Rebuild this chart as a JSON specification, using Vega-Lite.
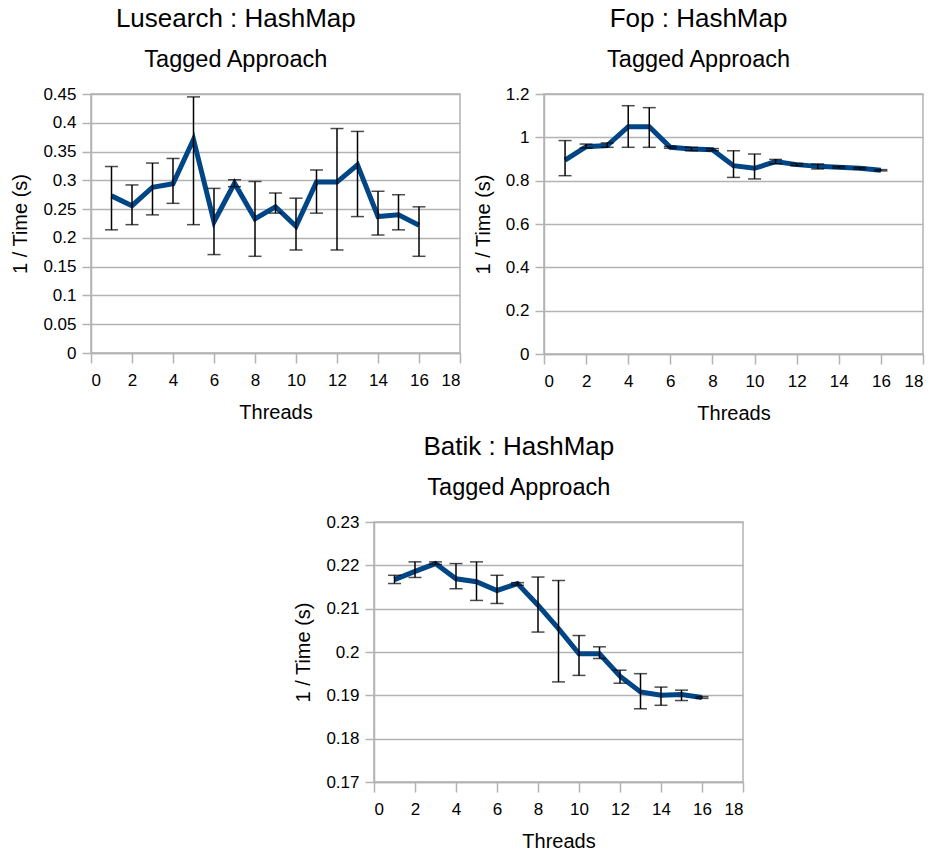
{
  "$schema": "https://vega.github.io/schema/vega-lite/v6.json",
  "padding": {"left": 10, "top": 4, "right": 0, "bottom": 0},
  "background": "white",
  "datasets": {
    "lusearch": [
      {"threads": 1, "value": 0.273, "lo": 0.214, "hi": 0.324},
      {"threads": 2, "value": 0.256, "lo": 0.223, "hi": 0.292},
      {"threads": 3, "value": 0.288, "lo": 0.240, "hi": 0.330},
      {"threads": 4, "value": 0.294, "lo": 0.260, "hi": 0.338},
      {"threads": 5, "value": 0.371, "lo": 0.223, "hi": 0.445},
      {"threads": 6, "value": 0.228, "lo": 0.171, "hi": 0.286},
      {"threads": 7, "value": 0.295, "lo": 0.289, "hi": 0.301},
      {"threads": 8, "value": 0.233, "lo": 0.168, "hi": 0.298},
      {"threads": 9, "value": 0.254, "lo": 0.243, "hi": 0.278},
      {"threads": 10, "value": 0.220, "lo": 0.179, "hi": 0.269},
      {"threads": 11, "value": 0.297, "lo": 0.243, "hi": 0.318},
      {"threads": 12, "value": 0.297, "lo": 0.179, "hi": 0.390},
      {"threads": 13, "value": 0.327, "lo": 0.237, "hi": 0.385},
      {"threads": 14, "value": 0.237, "lo": 0.205, "hi": 0.281},
      {"threads": 15, "value": 0.240, "lo": 0.214, "hi": 0.275},
      {"threads": 16, "value": 0.222, "lo": 0.168, "hi": 0.254}
    ],
    "fop": [
      {"threads": 1, "value": 0.895, "lo": 0.823, "hi": 0.985},
      {"threads": 2, "value": 0.957, "lo": 0.951, "hi": 0.969},
      {"threads": 3, "value": 0.962, "lo": 0.954, "hi": 0.974},
      {"threads": 4, "value": 1.049, "lo": 0.954, "hi": 1.146},
      {"threads": 5, "value": 1.049, "lo": 0.954, "hi": 1.137},
      {"threads": 6, "value": 0.954, "lo": 0.950, "hi": 0.958},
      {"threads": 7, "value": 0.946, "lo": 0.938, "hi": 0.954},
      {"threads": 8, "value": 0.943, "lo": 0.938, "hi": 0.948},
      {"threads": 9, "value": 0.869, "lo": 0.815, "hi": 0.938},
      {"threads": 10, "value": 0.857, "lo": 0.808, "hi": 0.923},
      {"threads": 11, "value": 0.888, "lo": 0.878, "hi": 0.898},
      {"threads": 12, "value": 0.874, "lo": 0.869, "hi": 0.879},
      {"threads": 13, "value": 0.866, "lo": 0.854, "hi": 0.877},
      {"threads": 14, "value": 0.862, "lo": 0.858, "hi": 0.866},
      {"threads": 15, "value": 0.857, "lo": 0.853, "hi": 0.861},
      {"threads": 16, "value": 0.848, "lo": 0.845, "hi": 0.851}
    ],
    "batik": [
      {"threads": 1, "value": 0.2167, "lo": 0.2158, "hi": 0.2177},
      {"threads": 2, "value": 0.2186, "lo": 0.2172, "hi": 0.2208},
      {"threads": 3, "value": 0.2204, "lo": 0.2202, "hi": 0.2208},
      {"threads": 4, "value": 0.2169, "lo": 0.2146, "hi": 0.2204},
      {"threads": 5, "value": 0.2162, "lo": 0.2119, "hi": 0.2208},
      {"threads": 6, "value": 0.2142, "lo": 0.2112, "hi": 0.2177},
      {"threads": 7, "value": 0.2158, "lo": 0.2154, "hi": 0.2160},
      {"threads": 8, "value": 0.2108, "lo": 0.2046, "hi": 0.2173},
      {"threads": 9, "value": 0.2054, "lo": 0.1931, "hi": 0.2165},
      {"threads": 10, "value": 0.1996, "lo": 0.1946, "hi": 0.2038},
      {"threads": 11, "value": 0.1996, "lo": 0.1985, "hi": 0.2012},
      {"threads": 12, "value": 0.1944, "lo": 0.1928, "hi": 0.1958},
      {"threads": 13, "value": 0.1908, "lo": 0.1869, "hi": 0.1950},
      {"threads": 14, "value": 0.1900, "lo": 0.1877, "hi": 0.1919},
      {"threads": 15, "value": 0.1902, "lo": 0.1888, "hi": 0.1912},
      {"threads": 16, "value": 0.1895, "lo": 0.1893, "hi": 0.1897}
    ],
    "empty": []
  },
  "config": {
    "font": "Liberation Sans",
    "view": {"stroke": "#b3b3b3", "strokeWidth": 1.5},
    "axis": {
      "labelFont": "Liberation Sans",
      "titleFont": "Liberation Sans",
      "labelFontSize": 17,
      "titleFontSize": 20,
      "labelColor": "#000",
      "titleColor": "#000",
      "titleFontWeight": "normal",
      "domainColor": "#b3b3b3",
      "domainWidth": 1.5,
      "tickColor": "#b3b3b3",
      "tickWidth": 1.5,
      "gridColor": "#b3b3b3",
      "gridWidth": 1.5,
      "labelOverlap": false,
      "format": "~g"
    },
    "axisX": {"grid": false, "titlePadding": 14, "tickSize": 10, "labelPadding": 9},
    "axisY": {"titlePadding": 12, "tickSize": 9, "labelPadding": 6},
    "title": {
      "font": "Liberation Sans",
      "fontSize": 26,
      "fontWeight": "normal",
      "color": "#000",
      "subtitleFont": "Liberation Sans",
      "subtitleFontSize": 23.5,
      "subtitleColor": "#000",
      "subtitlePadding": 16,
      "anchor": "middle",
      "frame": "bounds",
      "offset": 14
    }
  },
  "vconcat": [
    {
      "hconcat": [
        {
          "width": 369,
          "height": 259,
          "title": {"text": "Lusearch : HashMap", "subtitle": "Tagged Approach"},
          "data": {"name": "lusearch"},
          "encoding": {
            "x": {"field": "threads", "type": "quantitative", "title": "Threads", "scale": {"domain": [0, 18], "nice": false}, "axis": {"values": [0, 2, 4, 6, 8, 10, 12, 14, 16, 18]}}
          },
          "layer": [
            {
              "mark": {"type": "line", "color": "#004586", "strokeWidth": 5, "strokeJoin": "miter"},
              "encoding": {
                "y": {"field": "value", "type": "quantitative", "title": "1 / Time (s)", "scale": {"domain": [0, 0.45], "nice": false}, "axis": {"values": [0, 0.05, 0.1, 0.15, 0.2, 0.25, 0.3, 0.35, 0.4, 0.45]}}
              }
            },
            {
              "mark": {"type": "errorbar", "ticks": {"size": 13, "thickness": 1.5, "color": "#000"}, "rule": {"strokeWidth": 1.5, "color": "#000"}},
              "encoding": {
                "y": {"field": "lo", "type": "quantitative", "title": "1 / Time (s)", "axis": {"values": [0, 0.05, 0.1, 0.15, 0.2, 0.25, 0.3, 0.35, 0.4, 0.45]}},
                "y2": {"field": "hi"}
              }
            }
          ]
        },
        {
          "width": 379,
          "height": 260,
          "title": {"text": "Fop : HashMap", "subtitle": "Tagged Approach"},
          "data": {"name": "fop"},
          "encoding": {
            "x": {"field": "threads", "type": "quantitative", "title": "Threads", "scale": {"domain": [0, 18], "nice": false}, "axis": {"values": [0, 2, 4, 6, 8, 10, 12, 14, 16, 18]}}
          },
          "layer": [
            {
              "mark": {"type": "line", "color": "#004586", "strokeWidth": 5, "strokeJoin": "miter"},
              "encoding": {
                "y": {"field": "value", "type": "quantitative", "title": "1 / Time (s)", "scale": {"domain": [0, 1.2], "nice": false}, "axis": {"values": [0, 0.2, 0.4, 0.6, 0.8, 1, 1.2]}}
              }
            },
            {
              "mark": {"type": "errorbar", "ticks": {"size": 13, "thickness": 1.5, "color": "#000"}, "rule": {"strokeWidth": 1.5, "color": "#000"}},
              "encoding": {
                "y": {"field": "lo", "type": "quantitative", "title": "1 / Time (s)", "axis": {"values": [0, 0.2, 0.4, 0.6, 0.8, 1, 1.2]}},
                "y2": {"field": "hi"}
              }
            }
          ]
        }
      ],
      "spacing": 10
    },
    {
      "hconcat": [
        {
          "width": 195,
          "height": 10,
          "data": {"name": "empty"},
          "mark": "point",
          "encoding": {},
          "view": {"stroke": null}
        },
        {
          "width": 369,
          "height": 260,
          "title": {"text": "Batik : HashMap", "subtitle": "Tagged Approach"},
          "data": {"name": "batik"},
          "encoding": {
            "x": {"field": "threads", "type": "quantitative", "title": "Threads", "scale": {"domain": [0, 18], "nice": false}, "axis": {"values": [0, 2, 4, 6, 8, 10, 12, 14, 16, 18]}}
          },
          "layer": [
            {
              "mark": {"type": "line", "color": "#004586", "strokeWidth": 5, "strokeJoin": "miter"},
              "encoding": {
                "y": {"field": "value", "type": "quantitative", "title": "1 / Time (s)", "scale": {"domain": [0.17, 0.23], "zero": false, "nice": false}, "axis": {"values": [0.17, 0.18, 0.19, 0.2, 0.21, 0.22, 0.23]}}
              }
            },
            {
              "mark": {"type": "errorbar", "ticks": {"size": 13, "thickness": 1.5, "color": "#000"}, "rule": {"strokeWidth": 1.5, "color": "#000"}},
              "encoding": {
                "y": {"field": "lo", "type": "quantitative", "title": "1 / Time (s)", "axis": {"values": [0.17, 0.18, 0.19, 0.2, 0.21, 0.22, 0.23]}},
                "y2": {"field": "hi"}
              }
            }
          ]
        }
      ],
      "spacing": 7
    }
  ],
  "spacing": 8
}
